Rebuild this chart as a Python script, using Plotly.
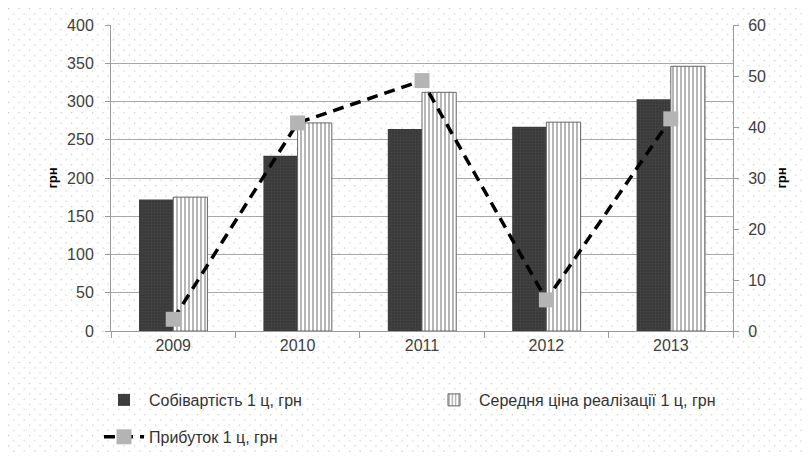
import plotly.graph_objects as go
import urllib.parse

years = ["2009", "2010", "2011", "2012", "2013"]
cost = [172, 229, 264, 267, 303]          # Собівартість 1 ц, грн
price = [175, 272, 312, 273, 346]         # Середня ціна реалізації 1 ц, грн
profit = [2.3, 40.8, 49.1, 6.1, 41.6]     # Прибуток 1 ц, грн

# page body has an 8px margin, so the figure is a bit smaller than the window
W, H = 803, 448
L, R, T, B = 103, 78, 17, 125
pw, ph = W - L - R, H - T - B

font_main = "Liberation Sans, Arial, sans-serif"

fig = go.Figure()
fig.add_trace(go.Bar(
    x=years, y=cost, name="Собівартість 1 ц, грн", legend="legend",
    marker=dict(color="#3a3a3a", line=dict(width=0),
                pattern=dict(shape="+", fgcolor="#555555", bgcolor="#3a3a3a", size=3, solidity=0.25)),
))
fig.add_trace(go.Bar(
    x=years, y=price, name="Середня ціна реалізації 1 ц, грн", legend="legend",
    marker=dict(color="white", line=dict(width=1, color="#666666"),
                pattern=dict(shape="|", fgcolor="#6e6e6e", bgcolor="white", size=4, solidity=0.5)),
))
fig.add_trace(go.Scatter(
    x=years, y=profit, name="Прибуток 1 ц, грн", yaxis="y2", legend="legend2",
    mode="lines+markers",
    line=dict(color="black", width=3.5, dash="11px,7px"),
    marker=dict(symbol="square", size=15, color="#b4b4b4", line=dict(width=0)),
))

svg = (
    "<svg xmlns='http://www.w3.org/2000/svg' width='811' height='456'>"
    "<defs><pattern id='p' width='10.6' height='10.6' patternUnits='userSpaceOnUse'>"
    "<rect x='0' y='0' width='1.2' height='1.2' fill='#c4c4c4'/>"
    "<rect x='5.3' y='5.3' width='1.2' height='1.2' fill='#c4c4c4'/>"
    "</pattern></defs><rect width='811' height='456' fill='url(#p)'/></svg>"
)
src = "data:image/svg+xml;charset=utf-8," + urllib.parse.quote(svg)

legend_common = dict(
    orientation="h", xanchor="left", yanchor="middle",
    font=dict(size=16, color="#333333"), bgcolor="rgba(0,0,0,0)",
    traceorder="normal", itemwidth=40,
)

fig.update_layout(
    width=W, height=H,
    margin=dict(l=L, r=R, t=T, b=B, autoexpand=False),
    paper_bgcolor="white", plot_bgcolor="rgba(0,0,0,0)",
    barmode="group", bargap=0.45, bargroupgap=0,
    font=dict(family=font_main, size=16, color="#404040"),
    images=[dict(source=src, xref="paper", yref="paper",
                 x=-L / pw, y=1 + T / ph, sizex=W / pw, sizey=H / ph,
                 sizing="stretch", xanchor="left", yanchor="top", layer="below")],
    xaxis=dict(
        showline=True, linecolor="#9a9a9a", linewidth=1,
        ticks="outside", tickson="boundaries", ticklen=6, tickcolor="#9a9a9a",
        tickfont=dict(size=16, color="#404040"), showgrid=False,
    ),
    yaxis=dict(
        range=[0, 400], dtick=50, showline=True, linecolor="#9a9a9a",
        ticks="outside", ticklen=5, tickcolor="#9a9a9a", ticklabelstandoff=8,
        showgrid=True, gridcolor="#a8a8a8", gridwidth=1,
        tickfont=dict(size=16, color="#404040"),
        title=dict(text="<b>грн</b>", font=dict(size=13, color="black"), standoff=6),
        zeroline=False,
    ),
    yaxis2=dict(
        range=[0, 60], dtick=10, overlaying="y", side="right",
        showline=True, linecolor="#9a9a9a", ticks="outside", ticklen=5, tickcolor="#9a9a9a",
        ticklabelstandoff=6,
        showgrid=False, zeroline=False,
        tickfont=dict(size=16, color="#404040"),
        title=dict(text="<b>грн</b>", font=dict(size=13, color="black"), standoff=11),
    ),
    legend=dict(x=-0.0193, y=-0.2255, entrywidth=275, entrywidthmode="pixels", **legend_common),
    legend2=dict(x=-0.0193, y=-0.346, **legend_common),
)

fig.write_html("out.html")
